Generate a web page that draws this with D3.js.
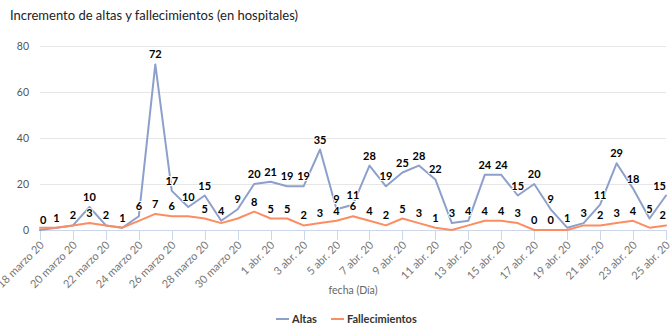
<!DOCTYPE html>
<html><head><meta charset="utf-8">
<script src="https://cdn.jsdelivr.net/npm/d3@7"></script>
<style>
body{margin:0;background:#fff;}
text{font-family:Lato,"Open Sans",sans-serif;}
</style></head>
<body><svg id="c" width="670" height="336"></svg>
<script>
const dates = ["2020-03-18","2020-03-19","2020-03-20","2020-03-21","2020-03-22","2020-03-23","2020-03-24","2020-03-25","2020-03-26","2020-03-27","2020-03-28","2020-03-29","2020-03-30","2020-03-31",
"2020-04-01","2020-04-02","2020-04-03","2020-04-04","2020-04-05","2020-04-06","2020-04-07","2020-04-08","2020-04-09","2020-04-10","2020-04-11","2020-04-12","2020-04-13","2020-04-14","2020-04-15","2020-04-16","2020-04-17","2020-04-18","2020-04-19","2020-04-20","2020-04-21","2020-04-22","2020-04-23","2020-04-24","2020-04-25"];
const altas = [0,1,2,10,2,1,6,72,17,10,15,4,9,20,21,19,19,35,9,11,28,19,25,28,22,3,4,24,24,15,20,9,1,3,11,29,18,5,15];
const fallecimientos = [1,1,2,3,2,1,4,7,6,6,5,3,5,8,5,5,2,3,4,6,4,2,5,3,1,0,2,4,4,3,0,0,0,2,2,3,4,1,2];
const yTicks = [0,20,40,60,80];
const monthNames = {2:"marzo",3:"abr."};
const seriesNames = ["Altas","Fallecimientos"];
const colors = ["#8da0cb","#fc8d62"];
const titleText = "Incremento de altas y fallecimientos (en hospitales)";
const xTitle = "fecha (Día)";

const parse = d3.timeParse("%Y-%m-%d");
const D = dates.map(parse);
const svg = d3.select("#c");
const L=40, R=666, T=46, B=230;
const x = d3.scaleTime().domain(d3.extent(D)).range([L,R]);
const y = d3.scaleLinear().domain([0,80]).range([B,T]);

svg.append("text").attr("x",10).attr("y",20).attr("font-size",13).attr("fill","#222").text(titleText);

// grid
svg.append("g").selectAll("line").data(yTicks.filter(d=>d>0)).join("line")
  .attr("x1",L).attr("x2",R).attr("y1",d=>y(d)+0.5).attr("y2",d=>y(d)+0.5)
  .attr("stroke","#e6e6e6").attr("stroke-width",1);
svg.append("g").selectAll("text").data(yTicks).join("text")
  .attr("x",29).attr("y",d=>y(d)+4).attr("text-anchor","end")
  .attr("font-size",10.5).attr("fill","#555").text(d=>d);

// x axis
const tickDates = D.filter((d,i)=>i%2===0);
const fmt = d => d.getDate()+" "+monthNames[d.getMonth()]+" "+String(d.getFullYear()).slice(2);
const xa = svg.append("g");
xa.append("line").attr("x1",L).attr("x2",R).attr("y1",B+0.5).attr("y2",B+0.5).attr("stroke","#ccd6eb");
xa.selectAll("line.t").data(tickDates).join("line").attr("class","t")
  .attr("x1",d=>Math.round(x(d))+0.5).attr("x2",d=>Math.round(x(d))+0.5)
  .attr("y1",B).attr("y2",B+10).attr("stroke","#ccd6eb");
xa.selectAll("text").data(tickDates).join("text")
  .attr("transform",d=>`translate(${x(d)+2},${B+13}) rotate(-45)`)
  .attr("text-anchor","end").attr("dy","0.35em")
  .attr("font-size",11).attr("fill","#777").text(fmt);
svg.append("text").attr("x",(L+R)/2).attr("y",294).attr("text-anchor","middle")
  .attr("font-size",10.5).attr("fill","#666").text(xTitle);

// lines
const series = [altas,fallecimientos];
const line = d3.line().x((d,i)=>x(D[i])).y(d=>y(d));
series.forEach((s,k)=>{
  svg.append("path").datum(s).attr("d",line).attr("fill","none")
    .attr("stroke",colors[k]).attr("stroke-width",2).attr("stroke-linejoin","round").attr("stroke-linecap","round");
});

// data labels with overlap hiding, kept inside plot horizontally
const lg = svg.append("g");
const placed = [];
series.forEach((s,k)=>{
  s.forEach((v,i)=>{
    const t = lg.append("text").attr("x",x(D[i])).attr("y",y(v)-6)
      .attr("text-anchor","middle").attr("font-size",11).attr("font-weight","bold")
      .attr("fill","#000").attr("stroke","#fff").attr("stroke-width",2).attr("paint-order","stroke")
      .attr("stroke-linejoin","round").text(v);
    let b = t.node().getBBox();
    let shift = 0;
    if(b.x < L) shift = L - b.x;
    if(b.x + b.width > R) shift = R - (b.x + b.width);
    if(shift){ t.attr("x", x(D[i]) + shift); b = t.node().getBBox(); }
    const box = {x:b.x-1,y:b.y+1,w:b.width+2,h:b.height-2};
    const ov = placed.some(p=>!(box.x+box.w<=p.x||p.x+p.w<=box.x||box.y+box.h<=p.y||p.y+p.h<=box.y));
    if(ov) t.remove(); else placed.push(box);
  });
});

// legend
const lx=[276,331];
seriesNames.forEach((n,k)=>{
  svg.append("line").attr("x1",lx[k]).attr("x2",lx[k]+13).attr("y1",319).attr("y2",319)
    .attr("stroke",colors[k]).attr("stroke-width",2);
  svg.append("text").attr("x",lx[k]+16).attr("y",323).attr("font-size",11).attr("font-weight","bold")
    .attr("fill","#333").text(n);
});
</script></body></html>
